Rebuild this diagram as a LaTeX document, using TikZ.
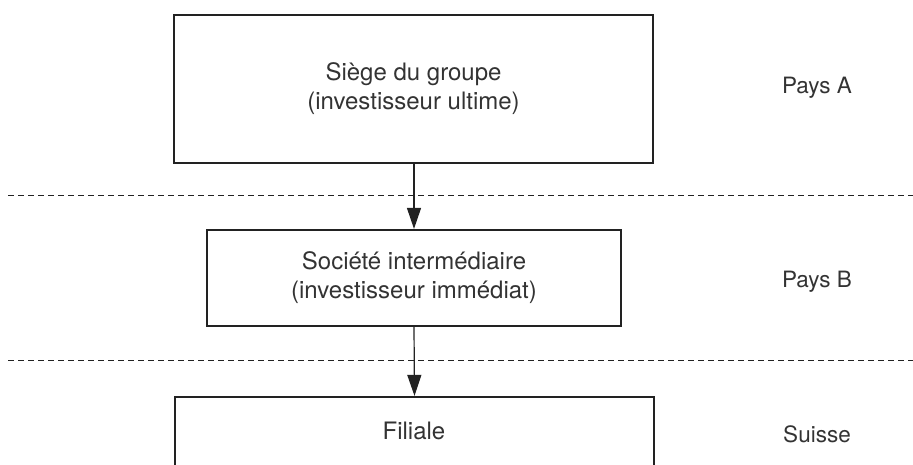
\documentclass[tikz,border=0pt]{standalone}
\usepackage{fontspec}
\setmainfont{TeX Gyre Heros}
\usetikzlibrary{arrows.meta}
\definecolor{ink}{HTML}{222222}
\definecolor{txt}{HTML}{333333}
\tikzset{
  box/.style={draw=ink, line width=2.2pt, rectangle, inner sep=0pt, align=center, text=txt, font=\fontsize{24}{29}\selectfont},
  lbl/.style={text=txt, font=\fontsize{22.5}{24}\selectfont, inner sep=0pt, anchor=base},
  sep/.style={draw=ink, line width=0.9pt, dash pattern=on 6pt off 4pt},
  flow/.style={draw=ink, line width=1.2pt, -{Triangle[length=21pt, width=14pt]}}
}
\begin{document}
\begin{tikzpicture}[x=1pt, y=-1pt]
\clip (0,0) rectangle (913,464);
\node[box, minimum width=479pt, minimum height=148pt] (siege) at (413.5,89) {Siège du groupe\\(investisseur ultime)};
\node[box, minimum width=414pt, minimum height=96pt] (inter) at (414,278) {Société intermédiaire\\(investisseur immédiat)};
\node[box, minimum width=479pt, minimum height=160pt] (fil) at (414.5,477) {};
\node[lbl, font=\fontsize{24}{29}\selectfont] (filtxt) at (414,439) {Filiale};
\node[lbl] (pa) at (817,93) {Pays A};
\node[lbl] (pb) at (817,287) {Pays B};
\node[lbl] (ch) at (817,442) {Suisse};
\coordinate (d1a) at (8,195);
\coordinate (d1b) at (913,195);
\coordinate (d2a) at (8,360);
\coordinate (d2b) at (913,360);
\draw[sep] (d1a) -- (d1b);
\draw[sep] (d2a) -- (d2b);
\draw[flow] (siege.south -| inter.north) -- (inter.north);
\draw[flow] (inter.south) -- (fil.north);
\end{tikzpicture}
\end{document}
